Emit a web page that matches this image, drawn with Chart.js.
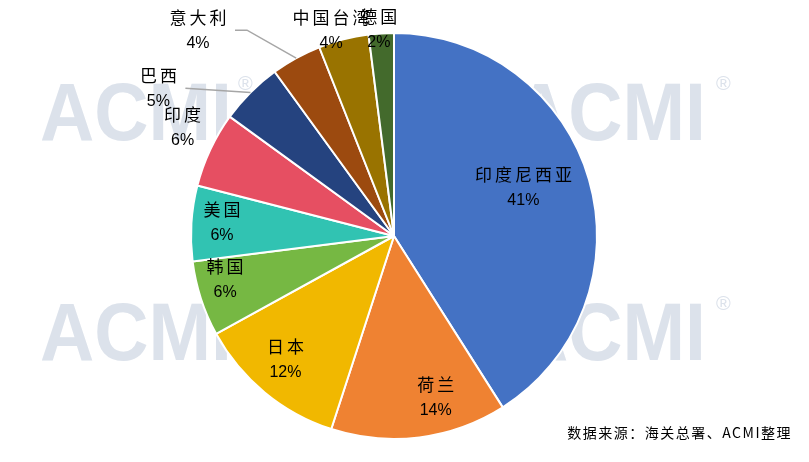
<!DOCTYPE html>
<html>
<head>
<meta charset="utf-8">
<script src="https://cdn.jsdelivr.net/npm/chart.js@4"></script>
<style>
  html, body { margin: 0; padding: 0; background: #fff; }
  canvas { display: block; }
</style>
</head>
<body>
<canvas id="pieChart" width="809" height="462"></canvas>
<script>
// data (share of total, %)
const countries = ['印度尼西亚', '荷兰', '日本', '韩国', '美国', '印度', '巴西', '意大利', '中国台湾', '德国'];
const shares = [41, 14, 12, 6, 6, 6, 5, 4, 4, 2];
const sliceColors = ['#4472C4', '#EF8232', '#F1B800', '#76B843', '#31C3B2', '#E64F62', '#25437F', '#9C4A0F', '#997300', '#436A2C'];
const sourceNote = '数据来源：海关总署、ACMI整理';

// label placement: [angle from top in degrees, distance as share of radius]
const labelPlace = [
  [69.6, 0.68], [165.5, 0.82], [221.3, 0.81], [255.4, 0.86], [274.6, 0.85],
  [297.1, 1.17], [302.1, 1.37], [316.4, 1.40], [343.0, 1.06], [355.8, 1.02]
];
// leader lines: slice index -> horizontal run before the bend
const leaders = { 6: { start: 27, run: 0 }, 7: { start: 37, run: 12 } };

const cjk = '"Noto Sans CJK SC", "Noto Sans", sans-serif';

const watermark = {
  id: 'watermark',
  beforeDraw(chart) {
    const c = chart.ctx;
    c.save();
    c.fillStyle = '#DCE2EB';
    c.textBaseline = 'top';
    c.font = 'bold 82px "Liberation Sans", Arial, sans-serif';
    [[40, 76], [514, 76], [40, 296], [514, 296]].forEach(([x, y]) => {
      c.fillText('ACMI', x, y, 192);
    });
    c.font = '20px "Liberation Sans", Arial, sans-serif';
    c.fillText('®', 238, 74);
    c.fillText('®', 716, 74);
    c.fillText('®', 716, 294);
    c.restore();
  }
};

const sliceLabels = {
  id: 'sliceLabels',
  afterDatasetsDraw(chart) {
    const c = chart.ctx;
    const arcs = chart.getDatasetMeta(0).data;
    c.save();
    arcs.forEach((arc, i) => {
      const cx = arc.x, cy = arc.y, R = arc.outerRadius;
      const [deg, f] = labelPlace[i];
      const a = deg * Math.PI / 180;
      const lx = cx + Math.sin(a) * R * f;
      const ly = cy - Math.cos(a) * R * f;

      if (leaders[i]) {
        const mid = (arc.startAngle + arc.endAngle) / 2;
        const ex = cx + Math.cos(mid) * R;
        const ey = cy + Math.sin(mid) * R;
        c.strokeStyle = '#A6A6A6';
        c.lineWidth = 1.5;
        c.beginPath();
        c.moveTo(lx + leaders[i].start, ly);
        c.lineTo(lx + leaders[i].start + leaders[i].run, ly);
        c.lineTo(ex, ey);
        c.stroke();
      }

      c.fillStyle = '#000';
      c.textAlign = 'center';
      c.textBaseline = 'middle';
      c.font = '17px ' + cjk;
      c.letterSpacing = '3px';
      c.fillText(countries[i], lx + 1.5, ly - 13);
      c.letterSpacing = '0px';
      c.font = '16px "Liberation Sans", Arial, sans-serif';
      c.fillText(shares[i] + '%', lx, ly + 13);
    });

    c.textAlign = 'right';
    c.textBaseline = 'middle';
    c.font = '14px ' + cjk;
    c.letterSpacing = '1.5px';
    c.fillText(sourceNote, 792, 433);
    c.restore();
  }
};

const ctx = document.getElementById('pieChart').getContext('2d');
const pieChart = new Chart(ctx, {
  type: 'pie',
  data: {
    labels: countries,
    datasets: [{
      data: shares,
      backgroundColor: sliceColors,
      borderColor: '#FFFFFF',
      borderWidth: 2
    }]
  },
  options: {
    responsive: false,
    animation: false,
    devicePixelRatio: 1,
    layout: { padding: { left: 120, right: 141, top: 32, bottom: 22 } },
    plugins: {
      legend: { display: false },
      tooltip: { enabled: false }
    }
  },
  plugins: [watermark, sliceLabels]
});
</script>
</body>
</html>
